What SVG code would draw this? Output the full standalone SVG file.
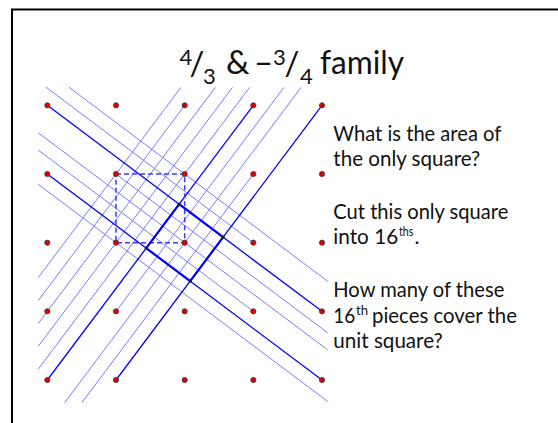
<svg xmlns="http://www.w3.org/2000/svg" width="558" height="423" viewBox="0 0 558 423">
<style>
.thin{stroke:#7a7aff;stroke-width:1;fill:none}
.solid{stroke:#0000ff;stroke-width:1.3;fill:none}
.bold{stroke:#0000ff;stroke-width:2.2;fill:none;stroke-linejoin:round}
.dash{stroke:#3a3aff;stroke-width:1.5;fill:none;stroke-dasharray:5 3}
.dot{fill:#e00000;stroke:#3a3a3a;stroke-width:0.8}
.idot{fill:#222}
.t{font-family:Lato,"Open Sans","Liberation Sans",sans-serif;fill:#111}
.body{font-size:21.5px}
.ti{font-size:33px}
.sm{font-size:22px}
.tiny{font-size:14px}
</style>
<rect x="12" y="9.5" width="600" height="500" fill="none" stroke="#000" stroke-width="2"/>
<g id="title" class="t">
<text class="sm" x="179.5" y="65">4</text>
<text class="ti" x="189.5" y="75">/</text>
<text class="sm" x="203" y="84">3</text>
<text class="ti" x="226" y="74.3">&amp;</text>
<text class="ti" x="254" y="74.3">–</text>
<text class="sm" x="273" y="64.5">3</text>
<text class="ti" x="284.5" y="75">/</text>
<text class="sm" x="300" y="84">4</text>
<text class="ti" x="320" y="74.3" textLength="84" lengthAdjust="spacingAndGlyphs">family</text>
</g>
<g id="connectors">
<g id="thin-lines">
<line class="thin" x1="69.07" y1="87.3" x2="327.7" y2="281.3"/>
<line class="thin" x1="46.18" y1="87.3" x2="253.33" y2="242.67"/>
<line class="thin" x1="116" y1="174" x2="327.7" y2="332.8"/>
<line class="thin" x1="38.2" y1="132.8" x2="327.7" y2="349.9"/>
<line class="thin" x1="38.2" y1="150" x2="253.33" y2="311.33"/>
<line class="thin" x1="38.2" y1="184.3" x2="327.7" y2="401.4"/>
<line class="thin" x1="181.04" y1="87.3" x2="38.2" y2="277.7"/>
<line class="thin" x1="184.67" y1="105.33" x2="38.2" y2="300.6"/>
<line class="thin" x1="215.35" y1="87.3" x2="38.2" y2="323.5"/>
<line class="thin" x1="232.5" y1="87.3" x2="38.2" y2="346.4"/>
<line class="thin" x1="249.7" y1="87.3" x2="38.2" y2="369.3"/>
<line class="thin" x1="284" y1="87.3" x2="116" y2="311.33"/>
<line class="thin" x1="301.2" y1="87.3" x2="64.64" y2="402.7"/>
<line class="thin" x1="253.33" y1="174" x2="81.8" y2="402.7"/>
</g>
<g id="solid-lines">
<line class="solid" x1="47.33" y1="105.33" x2="322" y2="311.33"/>
<line class="solid" x1="47.33" y1="174" x2="322" y2="380"/>
<line class="solid" x1="253.33" y1="105.33" x2="47.33" y2="380"/>
<line class="solid" x1="322" y1="105.33" x2="116" y2="380"/>
</g>
<rect id="unit-square" class="dash" x="116" y="174" width="68.67" height="68.67"/>
<polygon id="tilted-square" class="bold" points="179.18,204.21 223.13,237.18 190.16,281.13 146.21,248.16"/>
</g>
<g id="intersections">
<circle class="idot" cx="179.18" cy="204.21" r="1.6"/>
<circle class="idot" cx="223.13" cy="237.18" r="1.6"/>
<circle class="idot" cx="190.16" cy="281.13" r="1.6"/>
<circle class="idot" cx="146.21" cy="248.16" r="1.6"/>
</g>
<g id="grid-dots">
<circle class="dot" cx="47.33" cy="105.33" r="2.6"/><circle class="dot" cx="116" cy="105.33" r="2.6"/><circle class="dot" cx="184.67" cy="105.33" r="2.6"/><circle class="dot" cx="253.33" cy="105.33" r="2.6"/><circle class="dot" cx="322" cy="105.33" r="2.6"/>
<circle class="dot" cx="47.33" cy="174" r="2.6"/><circle class="dot" cx="116" cy="174" r="2.6"/><circle class="dot" cx="184.67" cy="174" r="2.6"/><circle class="dot" cx="253.33" cy="174" r="2.6"/><circle class="dot" cx="322" cy="174" r="2.6"/>
<circle class="dot" cx="47.33" cy="242.67" r="2.6"/><circle class="dot" cx="116" cy="242.67" r="2.6"/><circle class="dot" cx="184.67" cy="242.67" r="2.6"/><circle class="dot" cx="253.33" cy="242.67" r="2.6"/><circle class="dot" cx="322" cy="242.67" r="2.6"/>
<circle class="dot" cx="47.33" cy="311.33" r="2.6"/><circle class="dot" cx="116" cy="311.33" r="2.6"/><circle class="dot" cx="184.67" cy="311.33" r="2.6"/><circle class="dot" cx="253.33" cy="311.33" r="2.6"/><circle class="dot" cx="322" cy="311.33" r="2.6"/>
<circle class="dot" cx="47.33" cy="380" r="2.6"/><circle class="dot" cx="116" cy="380" r="2.6"/><circle class="dot" cx="184.67" cy="380" r="2.6"/><circle class="dot" cx="253.33" cy="380" r="2.6"/><circle class="dot" cx="322" cy="380" r="2.6"/>
</g>
<g id="questions" class="t body">
<text x="333.3" y="141" textLength="168" lengthAdjust="spacingAndGlyphs">What is the area of</text>
<text x="333.3" y="165.5" textLength="147" lengthAdjust="spacingAndGlyphs">the only square?</text>
<text x="333.3" y="219" textLength="175" lengthAdjust="spacingAndGlyphs">Cut this only square</text>
<text x="333.3" y="244" textLength="65" lengthAdjust="spacingAndGlyphs">into 16</text>
<text class="tiny" x="399" y="236" textLength="14.3" lengthAdjust="spacingAndGlyphs">ths</text>
<text x="414.5" y="244">.</text>
<text x="333.3" y="297" textLength="171" lengthAdjust="spacingAndGlyphs">How many of these</text>
<text x="333.3" y="322.7" textLength="22" lengthAdjust="spacingAndGlyphs">16</text>
<text class="tiny" x="356" y="314.5" textLength="12" lengthAdjust="spacingAndGlyphs">th</text>
<text x="372" y="322.7" textLength="145" lengthAdjust="spacingAndGlyphs">pieces cover the</text>
<text x="333.3" y="347.5" textLength="109.5" lengthAdjust="spacingAndGlyphs">unit square?</text>
</g>
</svg>
